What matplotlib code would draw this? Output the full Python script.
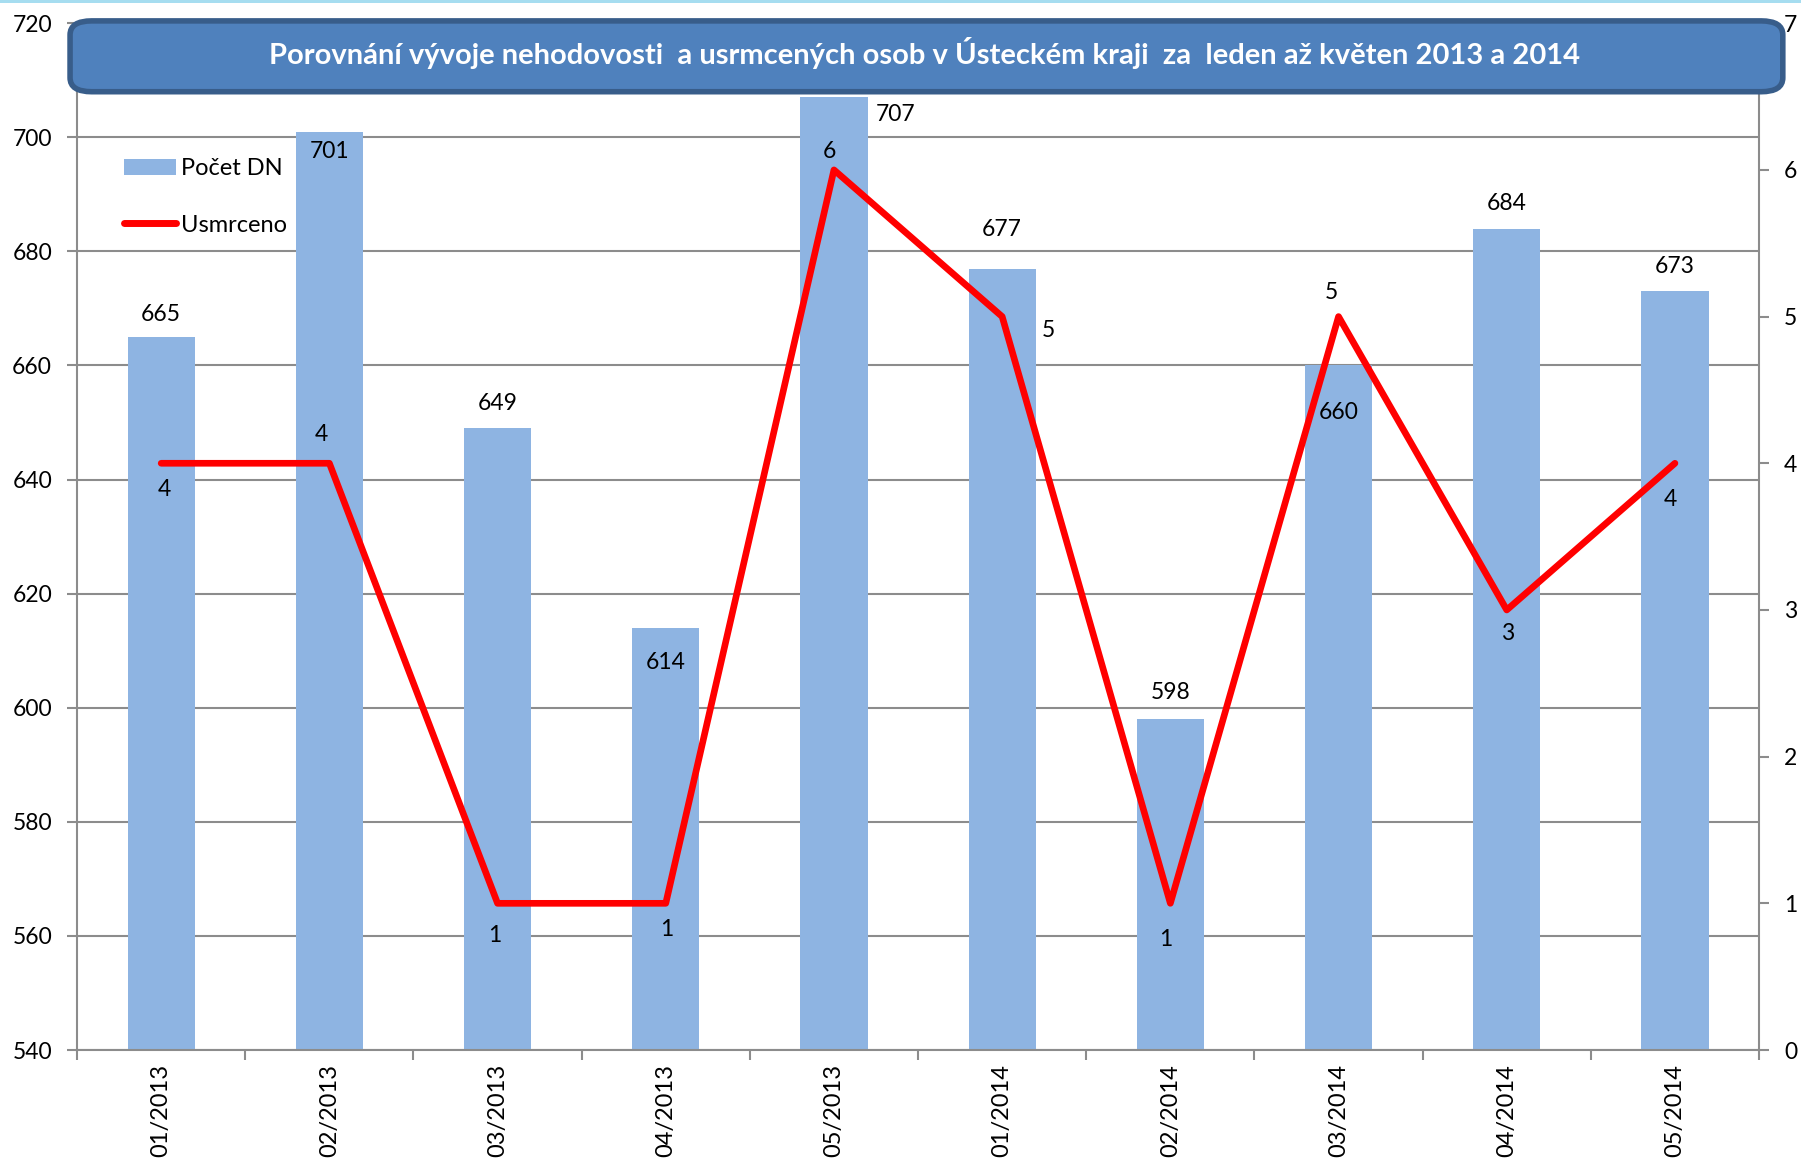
import matplotlib.pyplot as plt
from matplotlib.patches import FancyBboxPatch, Patch, Rectangle
from matplotlib.lines import Line2D

plt.rcParams['font.family'] = ['Lato', 'DejaVu Sans']

months = ['01/2013', '02/2013', '03/2013', '04/2013', '05/2013',
          '01/2014', '02/2014', '03/2014', '04/2014', '05/2014']
pocet_dn = [665, 701, 649, 614, 707, 677, 598, 660, 684, 673]
usmrceno = [4, 4, 1, 1, 6, 5, 1, 5, 3, 4]

title = ('Porovnání vývoje nehodovosti  a usrmcených osob v Ústeckém kraji  za  '
         'leden až květen 2013 a 2014')

# label offsets in points (x, y) relative to bar top / line point
bar_off = [(0, 16), (0, -14), (0, 18), (0, -25), (44, -12),
           (0, 28), (0, 19), (0, -34), (0, 18), (0, 18)]
line_off = [(2, -19), (-6, 21), (-2, -23), (1, -19), (-3, 13),
            (33, -10), (-3, -26), (-5, 17), (1, -17), (-3, -26)]

bar_color = '#8EB4E2'
grey = '#8C8C8C'

fig = plt.figure(figsize=(18.01, 11.61), dpi=100)
ax = fig.add_axes([0.0428, 0.0956, 0.9339, 0.8844])
x = list(range(len(months)))

ax.bar(x, pocet_dn, width=0.4, color=bar_color, zorder=2)
ax.set_ylim(540, 720)
ax.set_xlim(-0.5, len(months) - 0.5)
ax.set_yticks(range(540, 721, 20))
ax.grid(axis='y', color=grey, lw=1.5, zorder=0)
ax.set_xticks([i - 0.5 for i in range(len(months) + 1)])
ax.set_xticklabels([])
ax.set_xticks(x, minor=True)
ax.set_xticklabels(months, minor=True, rotation=90, fontsize=17)
ax.tick_params(axis='x', which='minor', length=0, pad=10)
ax.tick_params(axis='x', which='major', length=7, width=1.5, color=grey)
ax.tick_params(axis='y', length=7, width=1.5, color=grey, labelsize=16.5, pad=11)
for s in ['left', 'bottom']:
    ax.spines[s].set_color(grey)
    ax.spines[s].set_linewidth(1.5)
ax.spines['top'].set_visible(False)
ax.spines['right'].set_visible(False)

for i, v in enumerate(pocet_dn):
    ax.annotate(str(v), (i, v), xytext=bar_off[i], textcoords='offset points',
                ha='center', va='center', fontsize=16.5, zorder=5)

ax2 = ax.twinx()
ax2.plot(x, usmrceno, color='#FF0000', lw=4.8, solid_capstyle='round', zorder=3)
ax2.set_ylim(0, 7)
ax2.set_yticks(range(0, 8))
ax2.tick_params(axis='y', length=7, width=1.5, color=grey, labelsize=16.5, pad=11)
ax2.spines['right'].set_color(grey)
ax2.spines['right'].set_linewidth(1.5)
for s in ['left', 'top', 'bottom']:
    ax2.spines[s].set_visible(False)

for i, v in enumerate(usmrceno):
    ax2.annotate(str(v), (i, v), xytext=line_off[i], textcoords='offset points',
                 ha='center', va='center', fontsize=16.5, zorder=5)

# title box
box = FancyBboxPatch((0.0389 + 0.006, 0.918 + 0.009), 0.951 - 0.012, 0.067 - 0.018,
                     boxstyle='round,pad=0.006,rounding_size=0.012',
                     transform=fig.transFigure, facecolor='#4F81BD',
                     edgecolor='#385D8A', lw=4, zorder=10)
fig.patches.append(box)
fig.text(0.5136, 0.954, title, ha='center', va='center', color='white',
         fontsize=21, fontweight='bold', zorder=11)

# thin strip at the very top
fig.patches.append(Rectangle((0, 0.9975), 1, 0.0025, transform=fig.transFigure,
                             facecolor='#A6DDF0', edgecolor='none'))

handles = [Patch(facecolor=bar_color), Line2D([0], [0], color='#FF0000', lw=5,
                                             solid_capstyle='round')]
fig.legend(handles, ['Počet DN', 'Usmrceno'], loc='upper left',
           bbox_to_anchor=(0.057, 0.882), frameon=False, fontsize=17,
           handlelength=2.2, handletextpad=0.2, labelspacing=1.5)

fig.savefig('out.png', dpi=100)
